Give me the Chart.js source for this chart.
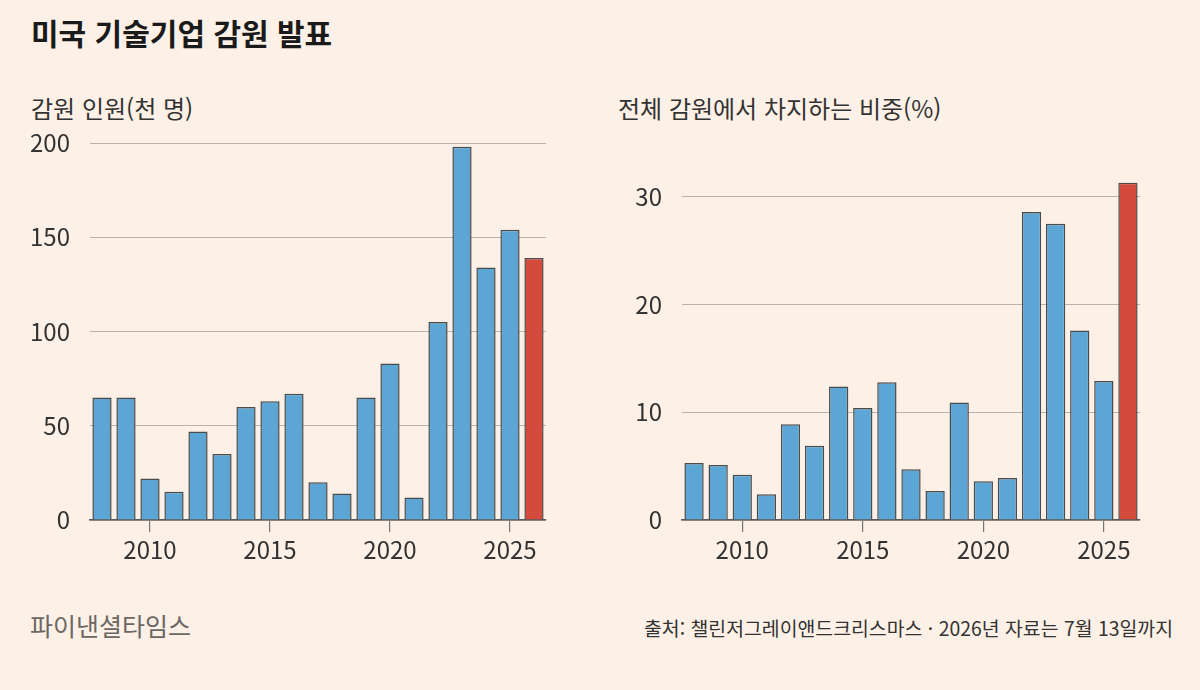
<!DOCTYPE html>
<html lang="ko">
<head>
<meta charset="utf-8">
<script src="https://cdn.jsdelivr.net/npm/chart.js@4/dist/chart.umd.min.js"></script>
<style>
  html, body { margin: 0; padding: 0; }
  body {
    width: 1200px; height: 690px; position: relative; overflow: hidden;
    background: #fdf0e6; color: #222;
    font-family: "Noto Sans CJK KR", "Noto Sans", sans-serif;
  }
  .title, .sub, .brand, .source { position: absolute; line-height: 1; white-space: nowrap; }
  .title { left: 31px; top: 17px; font-size: 30px; font-weight: 700; color: #1a1a1a; }
  .sub { top: 96px; font-size: 24px; color: #333; }
  .brand { left: 30px; top: 613px; font-size: 25px; color: #6b6763; }
  .source { right: 27px; top: 618px; font-size: 19.4px; color: #333; }
  canvas { position: absolute; top: 120px; }
</style>
</head>
<body>
<div class="title">미국 기술기업 감원 발표</div>
<div class="sub" style="left:31px">감원 인원(천 명)</div>
<div class="sub" style="left:618px">전체 감원에서 차지하는 비중(%)</div>
<canvas id="layoffChart" width="560" height="450" style="left:0"></canvas>
<canvas id="shareChart" width="560" height="450" style="left:600px"></canvas>
<div class="brand">파이낸셜타임스</div>
<div class="source">출처: 챌린저그레이앤드크리스마스 · 2026년 자료는 7월 13일까지</div>
<script>
const years = [2008, 2009, 2010, 2011, 2012, 2013, 2014, 2015, 2016, 2017,
  2018, 2019, 2020, 2021, 2022, 2023, 2024, 2025, 2026];
// thousands of people
const layoffs = [65, 65, 22, 15, 47, 35, 60, 63, 67, 20, 14, 65, 83, 12, 105, 198, 134, 154, 139];
// share of all US job cuts, %
const share = [5.3, 5.1, 4.2, 2.4, 8.9, 6.9, 12.4, 10.4, 12.8, 4.7, 2.7, 10.9, 3.6, 3.9, 28.6, 27.5, 17.6, 12.9, 31.3];
const labelYears = [2010, 2015, 2020, 2025];

const BLUE = "#5ba6d4";
const RED = "#d44b3d";
const TEXT = "#333";
const GRID = "#bab3ad";
const FONT = "'Noto Sans CJK KR', 'Noto Sans', sans-serif";

function barColors() {
  return years.map((y) => (y === 2026 ? RED : BLUE));
}

function createChart(canvasId, values, yMax, yStep, axisWidth, padRight) {
  const ctx = document.getElementById(canvasId);
  return new Chart(ctx, {
    type: "bar",
    data: {
      labels: years.map(String),
      datasets: [{
        data: values,
        backgroundColor: barColors(),
        borderColor: "#4b4b4b",
        borderWidth: 1.5,
        categoryPercentage: 1,
        barPercentage: 0.8,
      }],
    },
    options: {
      responsive: false,
      animation: false,
      devicePixelRatio: 1,
      layout: { padding: { top: 23, right: padRight, bottom: 0, left: 0 } },
      plugins: { legend: { display: false }, tooltip: { enabled: false } },
      scales: {
        x: {
          grid: {
            offset: false,
            drawOnChartArea: false,
            drawTicks: true,
            tickLength: 12,
            lineWidth: 1.2,
            color: (c) => (labelYears.includes(years[c.index]) ? "#777" : "transparent"),
          },
          border: { display: true, color: "#5a5a5a", width: 1.5 },
          ticks: {
            autoSkip: false,
            maxRotation: 0,
            padding: 3,
            color: TEXT,
            font: { family: FONT, size: 24 },
            callback: (value, index) => (labelYears.includes(years[index]) ? String(years[index]) : ""),
          },
          afterFit: (scale) => {
            scale.height = 50;
            scale.paddingLeft = 0;
            scale.paddingRight = 0;
          },
        },
        y: {
          min: 0,
          max: yMax,
          grid: { color: GRID, lineWidth: 1, drawTicks: false },
          border: { display: false },
          ticks: {
            stepSize: yStep,
            includeBounds: false,
            padding: 20,
            color: TEXT,
            font: { family: FONT, size: 24 },
          },
          afterFit: (scale) => {
            scale.width = axisWidth;
            scale.paddingTop = 0;
            scale.paddingBottom = 0;
          },
        },
      },
    },
  });
}

createChart("layoffChart", layoffs, 200, 50, 90, 14);
createChart("shareChart", share, 35, 10, 82, 20);
</script>
</body>
</html>
